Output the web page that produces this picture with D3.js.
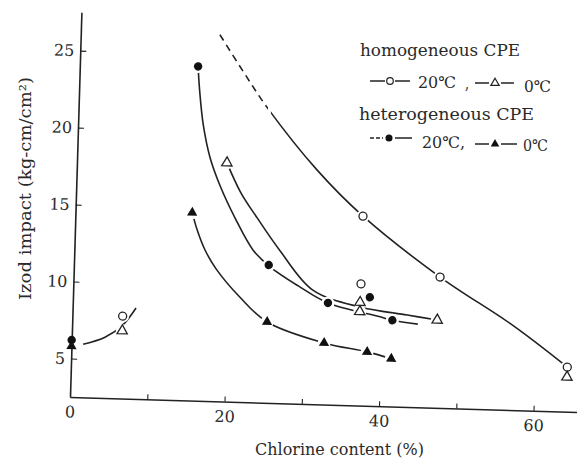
<!DOCTYPE html>
<html><head><meta charset="utf-8">
<script src="https://cdn.jsdelivr.net/npm/d3@7"></script>
<style>body{margin:0;background:#fff}svg{display:block}</style>
</head><body><svg id="c" width="577" height="462"></svg>
<script>
// ---- data ----
const xTicks = [0, 10, 20, 30, 40, 50, 60];
const xTickLabels = [0, 20, 40, 60];
const yTicks = [5, 10, 15, 20, 25];
// markers
const homo20 = [[6.5, 7.85], [37.2, 14.8], [37.2, 10.4], [47.4, 11.0], [64.2, 5.4]];
const homo0 = [[6.5, 6.9], [19.4, 18.0], [37.15, 9.2], [37.15, 8.6], [47.2, 8.2], [64.2, 4.75]];
const hetero20 = [[0, 6.2], [15.3, 24.2], [25.2, 11.45], [33.0, 9.1], [38.4, 9.55], [41.4, 8.1]];
const hetero0 = [[0, 5.8], [15.1, 14.7], [25.2, 7.75], [32.65, 6.5], [38.25, 6.0], [41.4, 5.6]];
// drawn curves
const curveLow = [[1.5, 5.95], [4.3, 6.45], [6.55, 7.27], [8.2, 8.4]];
const curveHomo20 = [[18.0, 26.3], [21.1, 24.0], [24.5, 21.6], [31.1, 17.7], [37.2, 14.8], [47.4, 11.0], [57.0, 8.0], [64.2, 5.4]];
const homo20DashedUpTo = 24.5;
const curveHomo0 = [[19.4, 18.0], [21.3, 16.1], [23.5, 14.5], [26.6, 12.4], [31.0, 9.9], [37.15, 8.9], [43.3, 8.47], [47.2, 8.2]];
const curveHetero20 = [[15.3, 24.2], [15.6, 22.6], [16.2, 20.4], [17.2, 18.3], [18.6, 16.5], [20.7, 14.4], [23.1, 12.4], [25.2, 11.4], [29.1, 10.15], [33.0, 9.1], [39.8, 8.3], [41.4, 8.1], [44.7, 7.9]];
const curveHetero0 = [[15.1, 14.7], [15.8, 13.6], [16.9, 12.3], [18.4, 11.1], [21.6, 9.3], [25.2, 7.75], [32.65, 6.5], [38.25, 6.0], [41.4, 5.6]];

// ---- drawing ----
const svg = d3.select("#c");
const ink = "#222", txt = "#2a2a2a";
const font = "'DejaVu Serif', 'Liberation Serif', serif";
const ox = 70, oy = 397, tilt = 1.7;

const x = d3.scaleLinear().domain([0, 65.6]).range([ox, 577]);
const y = d3.scaleLinear().domain([2.5, 27.5]).range([oy, 12]);

const g = svg.append("g").attr("transform", `rotate(${tilt},${ox},${oy})`);

// clip regions for dashed / solid part of the homogeneous 20C curve
const defs = svg.append("defs");
defs.append("clipPath").attr("id", "cDash").append("rect")
  .attr("x", 0).attr("y", -50).attr("width", x(homo20DashedUpTo)).attr("height", 600);
defs.append("clipPath").attr("id", "cSolid").append("rect")
  .attr("x", x(homo20DashedUpTo) + 3).attr("y", -50).attr("width", 700).attr("height", 600);

// axes
const xa = g.append("g").attr("transform", `translate(0,${oy})`)
  .call(d3.axisBottom(x).tickValues(xTicks).tickSize(-5).tickSizeOuter(0).tickPadding(9)
    .tickFormat(d => xTickLabels.includes(d) ? d : ""));
const ya = g.append("g").attr("transform", `translate(${ox},0)`)
  .call(d3.axisLeft(y).tickValues(yTicks).tickSize(-6).tickSizeOuter(0).tickPadding(6));
[xa, ya].forEach(a => {
  a.select(".domain").attr("stroke", ink).attr("stroke-width", 1.6);
  a.selectAll(".tick line").attr("stroke", ink).attr("stroke-width", 1.1);
  a.selectAll("text").attr("font-family", font).attr("font-size", 16).attr("fill", txt);
});
xa.selectAll(".tick").filter(d => d === 0).select("line").remove();

// curves
const smooth = d3.line().x(d => x(d[0])).y(d => y(d[1])).curve(d3.curveCatmullRom.alpha(0.5));
const drawCurve = (pts, dash, clip) => g.append("path").attr("d", smooth(pts)).attr("fill", "none")
  .attr("stroke", ink).attr("stroke-width", 1.6)
  .attr("stroke-dasharray", dash).attr("clip-path", clip);
drawCurve(curveLow, null, null);
drawCurve(curveHomo20, "7,5", "url(#cDash)");
drawCurve(curveHomo20, null, "url(#cSolid)");
drawCurve(curveHomo0, null, null);
drawCurve(curveHetero20, null, null);
drawCurve(curveHetero0, null, null);

// halos that break the lines at markers
const allPts = [...homo20, ...homo0, ...hetero20, ...hetero0].filter(d => d[0] > 1);
g.append("g").selectAll("circle").data(allPts).join("circle")
  .attr("cx", d => x(d[0])).attr("cy", d => y(d[1])).attr("r", 6.5).attr("fill", "#fff");

// markers
const tri = d3.symbol().type(d3.symbolTriangle).size(46);
g.append("g").selectAll("circle").data(homo20).join("circle")
  .attr("cx", d => x(d[0])).attr("cy", d => y(d[1])).attr("r", 4)
  .attr("fill", "#fff").attr("stroke", ink).attr("stroke-width", 1.3);
g.append("g").selectAll("path").data(homo0).join("path")
  .attr("transform", d => `translate(${x(d[0])},${y(d[1])})`).attr("d", tri)
  .attr("fill", "#fff").attr("stroke", ink).attr("stroke-width", 1.3);
g.append("g").selectAll("circle").data(hetero20).join("circle")
  .attr("cx", d => x(d[0])).attr("cy", d => y(d[1])).attr("r", 4.2).attr("fill", "#111");
g.append("g").selectAll("path").data(hetero0).join("path")
  .attr("transform", d => `translate(${x(d[0])},${y(d[1])})`).attr("d", tri)
  .attr("fill", "#111");

// axis titles
svg.append("text").attr("x", 255).attr("y", 455).attr("font-family", font).attr("font-size", 16)
  .attr("fill", txt).attr("textLength", 169).attr("lengthAdjust", "spacingAndGlyphs")
  .text("Chlorine content (%)");
svg.append("text").attr("transform", "translate(31,300) rotate(-90)")
  .attr("font-family", font).attr("font-size", 16).attr("fill", txt)
  .attr("textLength", 223).attr("lengthAdjust", "spacingAndGlyphs")
  .text("Izod impact (kg-cm/cm²)");

// legend
const lg = svg.append("g").attr("font-family", font).attr("fill", txt).attr("font-size", 16);
const T = (s, tx, ty, len) => lg.append("text").attr("x", tx).attr("y", ty)
  .attr("textLength", len).attr("lengthAdjust", "spacingAndGlyphs").text(s);
const L = (x1, x2, yy, dash) => lg.append("line").attr("x1", x1).attr("x2", x2).attr("y1", yy).attr("y2", yy)
  .attr("stroke", ink).attr("stroke-width", 1.5).attr("stroke-dasharray", dash || null);
T("homogeneous CPE", 360, 56, 160);
L(370, 385, 81); L(395, 410, 81);
lg.append("circle").attr("cx", 390).attr("cy", 81).attr("r", 3.3).attr("fill", "#fff").attr("stroke", ink).attr("stroke-width", 1.2);
T("20℃", 418, 88, 38);
T(",", 465, 89, 4);
L(475, 489, 83); L(501, 514, 83);
lg.append("path").attr("transform", "translate(495,83)").attr("d", d3.symbol().type(d3.symbolTriangle).size(30))
  .attr("fill", "#fff").attr("stroke", ink).attr("stroke-width", 1.2);
T("0℃", 524, 92, 27);
T("heterogeneous CPE", 359, 120, 175);
L(370, 383, 138, "4,2"); L(395, 412, 138);
lg.append("circle").attr("cx", 389).attr("cy", 138).attr("r", 3.5).attr("fill", "#111");
T("20℃,", 422, 148, 43);
L(475, 489, 144); L(501, 517, 144);
lg.append("path").attr("transform", "translate(495,144)").attr("d", d3.symbol().type(d3.symbolTriangle).size(32))
  .attr("fill", "#111");
T("0℃", 523, 151, 25);
</script></body></html>
